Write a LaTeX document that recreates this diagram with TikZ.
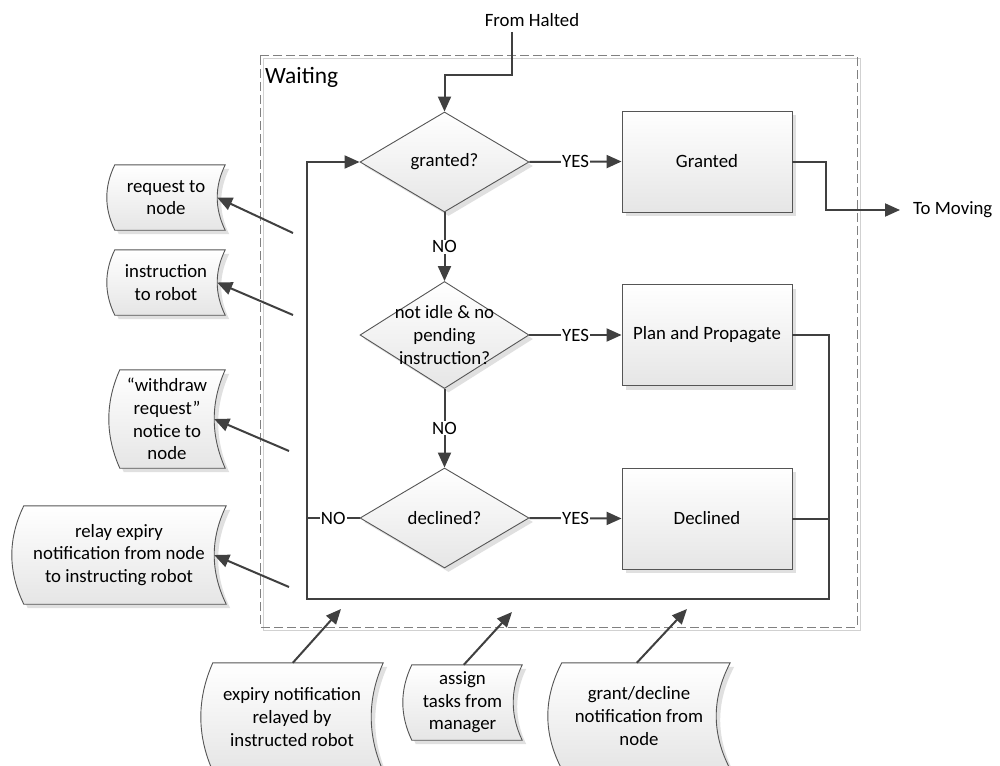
\documentclass[tikz,border=0pt]{standalone}
\usepackage{fontspec}
\setmainfont{Carlito}
\usetikzlibrary{arrows.meta,shapes.geometric,shadows,backgrounds,calc}
\definecolor{ln}{HTML}{404040}
\definecolor{ol}{HTML}{555555}
\newcommand\dtxt{\fontsize{18.8}{22.6}\selectfont}
\newcommand\wtxt{\fontsize{23.4}{28}\selectfont}
\tikzset{
 conn/.style={draw=ln, line width=2pt},
 arr/.style={conn, -{Triangle[length=15pt,width=13pt]}},
 fillg/.style={top color=white, bottom color=black!10},
 shd/.style={drop shadow={shadow xshift=4pt,shadow yshift=-4pt,fill=black!12,opacity=1}},
 procbox/.style={rectangle, draw=ol, line width=0.9pt, fillg, shd, minimum width=170pt, minimum height=101pt, inner sep=0pt, font=\dtxt},
 decision/.style={diamond, draw=ol, line width=0.9pt, fillg, shd, inner sep=0pt, minimum width=169pt, minimum height=100pt},
 lbl/.style={fill=white, inner sep=1pt, font=\dtxt},
 sdtext/.style={inner sep=0pt, align=center, font=\dtxt},
 sdline/.style={draw=ol, line width=0.9pt, fillg, shd},
}
% stored-data shape drawn around node #1 with curve depth #2
\newcommand\sdshape[2]{%
  \coordinate (#1tl) at (#1.north west);
  \coordinate (#1bl) at (#1.south west);
  \coordinate (#1tr) at ($(#1.north east)+(#2,0)$);
  \coordinate (#1br) at ($(#1.south east)+(#2,0)$);
  \path[sdline] (#1tl) -- (#1tr)
    .. controls ($(#1tr)!0.333!(#1br)+(-1.333*#2,0)$) and ($(#1tr)!0.667!(#1br)+(-1.333*#2,0)$) .. (#1br)
    -- (#1bl)
    .. controls ($(#1bl)!0.333!(#1tl)+(-1.333*#2,0)$) and ($(#1bl)!0.667!(#1tl)+(-1.333*#2,0)$) .. (#1tl) -- cycle;
}
\begin{document}
\begin{tikzpicture}[x=1pt,y=-1pt]
\useasboundingbox (0,0) rectangle (1000,765);
\clip (0,0) rectangle (1000,765);

% Waiting container
\draw[black!18, line width=1pt] (263,59) rectangle (860,630);
\draw[black!50, line width=1pt, dash pattern=on 9pt off 4pt] (260,56) rectangle (857,627);
\node[anchor=west, inner sep=0pt, font=\wtxt] (wt) at (265,77) {Waiting};

% decisions
\node[decision, label={[font=\dtxt]center:granted?}] (d1) at (444.5,162) {};
\node[decision, minimum height=107pt, label={[font=\dtxt,align=center]center:not idle \& no\\pending\\instruction?}] (d2) at (444.5,335) {};
\node[decision, label={[font=\dtxt]center:declined?}] (d3) at (444.5,518) {};

% process boxes
\node[procbox] (gr) at (707,161.5) {Granted};
\node[procbox] (pp) at (707,335) {Plan and Propagate};
\node[procbox] (dc) at (707,518.5) {Declined};

% external texts
\node[font=\dtxt, inner sep=0pt] (fh) at (532,20) {From Halted};
\node[font=\dtxt, anchor=west, inner xsep=13pt, inner ysep=0pt] (tm) at (900,210) {To Moving};

% stored-data nodes
\node[sdtext, minimum width=102pt, minimum height=65pt] (b1) at (166,197.5) {request to\\node};
\node[sdtext, minimum width=102pt, minimum height=65pt] (b2) at (166,282.5) {instruction\\to robot};
\node[sdtext, minimum width=94pt, minimum height=98pt] (b3) at (167,419) {“withdraw\\request”\\notice to\\node};
\node[sdtext, minimum width=190pt, minimum height=98pt] (b4) at (119,555) {relay expiry\\notification from node\\to instructing robot};
\node[sdtext, minimum width=158pt, minimum height=108pt] (b5) at (292,717) {expiry notification\\relayed by\\instructed robot};
\node[sdtext, minimum width=101pt, minimum height=75pt] (b6) at (462.5,702.5) {assign\\tasks from\\manager};
\node[sdtext, minimum width=154pt, minimum height=106pt] (b7) at (639,716) {grant/decline\\notification from\\node};

\begin{scope}[on background layer]
  \fill[white] (0,0) rectangle (1000,765);
  \sdshape{b1}{8}
  \sdshape{b2}{8}
  \sdshape{b3}{11}
  \sdshape{b4}{12}
  \sdshape{b5}{12}
  \sdshape{b6}{9}
  \sdshape{b7}{14}
\end{scope}

% coordinates
\coordinate (fhs) at (512,32);
\coordinate (fhk) at (512,75);
\coordinate (tmk) at (826,210);
\coordinate (lr) at (829,599);
\coordinate (ll) at (307,599);
\coordinate (s1) at (293,233);
\coordinate (s2) at (293,315);
\coordinate (s3) at (289,451);
\coordinate (s4) at (289,587);
\coordinate (t5) at (341,609);
\coordinate (t6) at (512,612);
\coordinate (t7) at (687,609);

% main flow
\draw[arr] (fhs) -- (fhk) -| (d1.north);
\draw[arr] (d1.east) -- (gr.west) node[lbl,midway]{YES};
\draw[arr] (gr.east) -| (tmk) -- (tm.west);
\draw[arr] (d1.south) -- (d2.north) node[lbl,midway]{NO};
\draw[arr] (d2.east) -- (pp.west) node[lbl,midway]{YES};
\draw[arr] (d2.south) -- (d3.north) node[lbl,midway]{NO};
\draw[arr] (d3.east) -- (dc.west) node[lbl,midway]{YES};
\draw[arr] (pp.east) -| (lr) -- (ll) |- (d1.west);
\draw[conn] (dc.east) -- (dc.east -| lr);
\draw[conn] (d3.west) -- (d3.west -| ll) node[lbl,midway]{NO};

% outputs
\draw[arr] (s1) -- (b1.east);
\draw[arr] (s2) -- (b2.east);
\draw[arr] (s3) -- (b3.east);
\draw[arr] (s4) -- (b4.east);

% inputs
\draw[arr] ([xshift=80pt]b5.north west) -- (t5);
\draw[arr] ([xshift=52pt]b6.north west) -- (t6);
\draw[arr] ([xshift=75pt]b7.north west) -- (t7);
\end{tikzpicture}
\end{document}
